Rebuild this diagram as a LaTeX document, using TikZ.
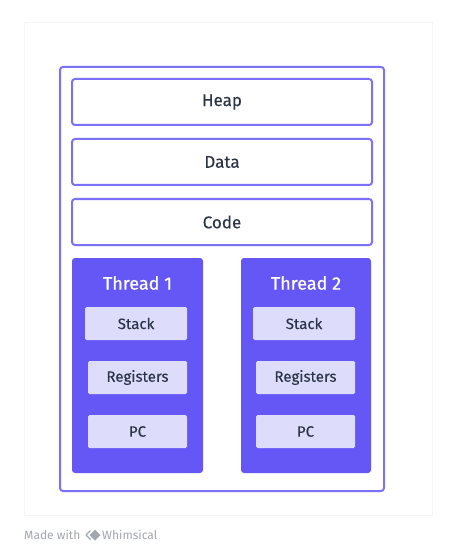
\documentclass[tikz,border=0pt]{standalone}
\usepackage{fontspec}
\setmainfont{Fira Sans}
\usetikzlibrary{positioning}

\definecolor{frame}{HTML}{7C70F7}
\definecolor{thread}{HTML}{6557F5}
\definecolor{slot}{HTML}{DEDCFB}
\definecolor{ink}{HTML}{2B3546}
\definecolor{credit}{HTML}{A3A7AF}

\tikzset{
  seg/.style={draw=frame, line width=2pt, rounded corners=3pt, fill=white,
    minimum width=300pt, minimum height=46pt, text=ink,
    font=\fontsize{17}{20}\selectfont\addfontfeatures{FakeBold=0.3}},
  thr/.style={fill=thread, rounded corners=3pt, minimum width=131pt, minimum height=215pt},
  slotbox/.style={fill=slot, rounded corners=1.5pt, minimum width=99pt, minimum height=33pt,
    text=ink, font=\fontsize{15}{18}\selectfont\addfontfeatures{FakeBold=0.3}},
  tname/.style={text=white, font=\fontsize{18}{21}\selectfont\addfontfeatures{FakeBold=0.8}}
}

\begin{document}
\begin{tikzpicture}[x=1pt, y=-1pt, node distance=12pt]
  \useasboundingbox (0,0) rectangle (457,553);
  \fill[white] (0,0) rectangle (457,553);
  \draw[black!4, line width=1pt, fill=white] (24,23) rectangle (432,515);

  \node[draw=frame, line width=2pt, rounded corners=3pt, minimum width=324pt,
        minimum height=424pt] (proc) at (222,279) {};

  \node[seg] (heap) at (222,102) {Heap};
  \node[seg, below=of heap] (data) {Data};
  \node[seg, below=of data] (code) {Code};

  \node[thr] (t1) at (137.5,365.5) {};
  \node[thr, minimum width=130pt] (t2) at (306,365.5) {};

  \node[tname] (t1name) at (137.5,283) {Thread 1};
  \node[tname] (t2name) at (306,283) {Thread 2};

  \node[slotbox, minimum width=102pt] (stack1) at (136,323.5) {Stack};
  \node[slotbox] (reg1) at (137.5,377.5) {Registers};
  \node[slotbox] (pc1) at (137.5,431.5) {PC};

  \node[slotbox, minimum width=102pt] (stack2) at (304,323.5) {Stack};
  \node[slotbox] (reg2) at (305.5,377.5) {Registers};
  \node[slotbox] (pc2) at (305.5,431.5) {PC};

  % footer
  \node[anchor=west, inner sep=0pt, text=credit, font=\fontsize{12}{14}\selectfont] (made) at (24,535) {Made with};
  \draw[credit, line width=1.4pt, line join=round] (90.5,530.5) -- (86,535) -- (90.5,539.5);
  \fill[credit] (95,529.5) -- (100.5,535) -- (95,540.5) -- (89.5,535) -- cycle;
  \node[anchor=west, inner sep=0pt, text=credit, font=\fontsize{12}{14}\selectfont] (whim) at (102,535) {Whimsical};
\end{tikzpicture}
\end{document}
